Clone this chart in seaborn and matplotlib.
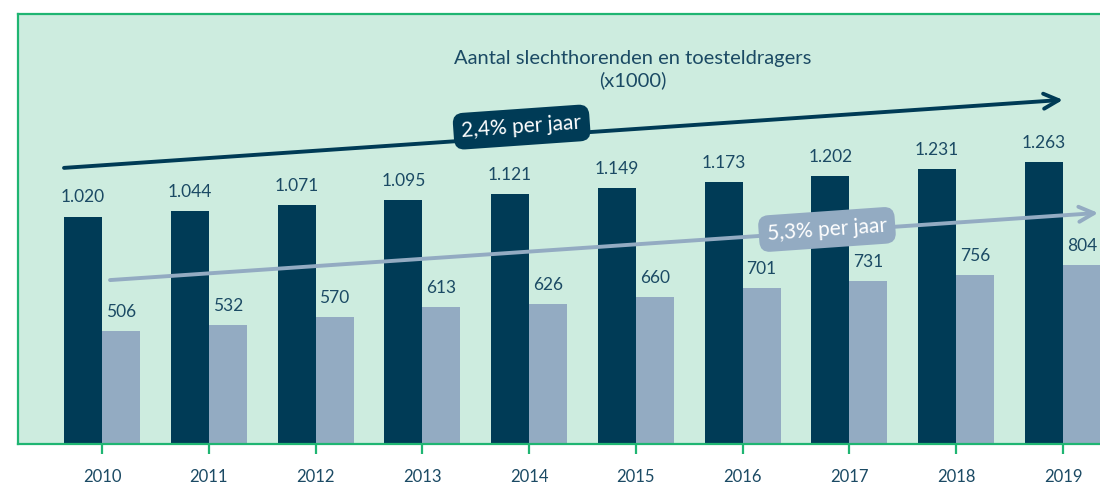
import pandas as pd
import matplotlib.pyplot as plt
import seaborn as sns

# data (x1000)
years = ['2010', '2011', '2012', '2013', '2014', '2015', '2016', '2017', '2018', '2019']
slechthorenden = [1020, 1044, 1071, 1095, 1121, 1149, 1173, 1202, 1231, 1263]
toesteldragers = [506, 532, 570, 613, 626, 660, 701, 731, 756, 804]
groei_labels = ['2,4% per jaar', '5,3% per jaar']

dark = '#003b56'
light = '#93abc2'
bg = '#cdecdf'
green = '#1fb572'
txt = '#1b4a64'

df = pd.DataFrame({
    'jaar': years * 2,
    'aantal': slechthorenden + toesteldragers,
    'groep': ['slechthorenden'] * len(years) + ['toesteldragers'] * len(years),
})

sns.set_theme(style='white')
plt.rcParams['font.family'] = ['Lato', 'DejaVu Sans']

fig = plt.figure(figsize=(11, 4.84), dpi=100)
ax = fig.add_axes([18 / 1100, 40 / 484, 1109 / 1100, 430 / 484])
ax.set_facecolor(bg)

sns.barplot(data=df, x='jaar', y='aantal', hue='groep', palette=[dark, light],
            width=0.712, gap=0, saturation=1, legend=False, errorbar=None,
            linewidth=0, ax=ax)

for cont in ax.containers:
    ax.bar_label(cont, labels=[f"{int(v):,}".replace(',', '.') for v in cont.datavalues],
                 padding=8, fontsize=12.5, color=txt)

ax.set_xlim(-0.787, 9.6)
ax.set_ylim(0, 1928)
ax.set_xlabel('')
ax.set_ylabel('')
ax.set_yticks([])
ax.tick_params(axis='x', length=7, width=1.6, color=green, labelcolor=txt,
               labelsize=12, pad=11, bottom=True, direction='out')
for s in ax.spines.values():
    s.set_color(green)
    s.set_linewidth(1.6)

# title inside the panel
ax.text(4.97, 1680, 'Aantal slechthorenden en toesteldragers\n(x1000)', ha='center', va='center',
        fontsize=14.5, color=txt, linespacing=1.3)

# growth arrows
ax.annotate('', xy=(9.0, 1543), xytext=(-0.356, 1238),
            arrowprops=dict(arrowstyle='->,head_length=0.9,head_width=0.45', color=dark, lw=2.8,
                            shrinkA=0, shrinkB=0))
ax.annotate('', xy=(9.33, 1036), xytext=(0.075, 735),
            arrowprops=dict(arrowstyle='->,head_length=0.9,head_width=0.45', color=light, lw=2.8,
                            shrinkA=0, shrinkB=0))
ax.text(3.93, 1421, groei_labels[0], ha='center', va='center', rotation=4, fontsize=15,
        color='white', bbox=dict(boxstyle='round,pad=0.4,rounding_size=0.5', fc=dark, ec='none'))
ax.text(6.79, 962, groei_labels[1], ha='center', va='center', rotation=4, fontsize=15,
        color='white', bbox=dict(boxstyle='round,pad=0.4,rounding_size=0.5', fc=light, ec='none'))

fig.savefig('out.png', dpi=100)
